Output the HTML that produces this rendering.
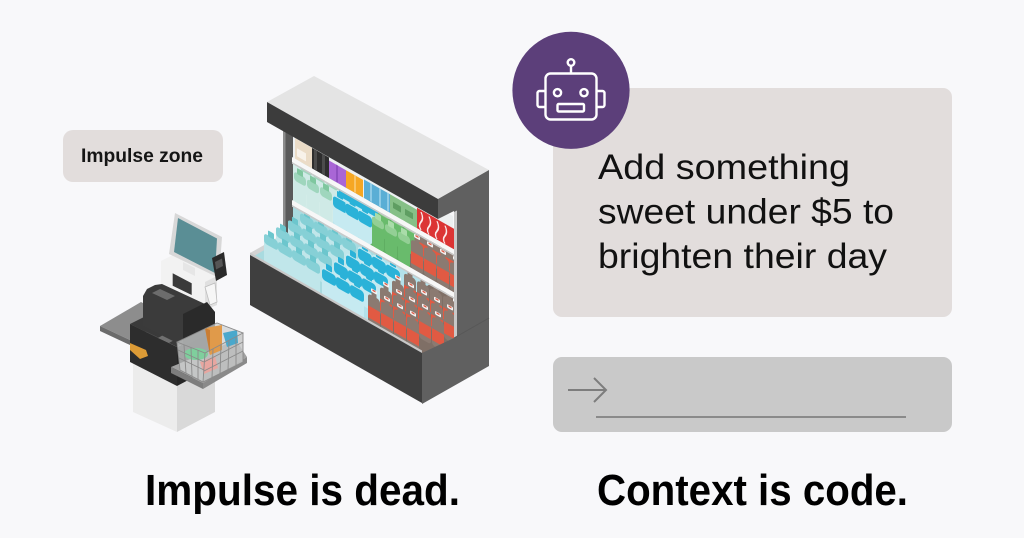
<!DOCTYPE html>
<html><head><meta charset="utf-8"><style>
html,body{margin:0;padding:0;background:#f8f8fa;overflow:hidden}
svg{display:block}
text{font-family:"Liberation Sans",Arial,sans-serif}
</style></head><body>
<svg width="1024" height="538" viewBox="0 0 1024 538" xmlns="http://www.w3.org/2000/svg">
<defs>
 <g id="cola">
  <rect x="0" y="-29" width="12" height="29" rx="3" fill="#8b7a71"/>
  <rect x="0" y="-17" width="12" height="12" fill="#e15a43"/>
  <rect x="3.5" y="-33" width="5" height="5" fill="#8b7a71"/>
  <rect x="3" y="-36" width="6" height="3.5" rx="1" fill="#f4f4f4"/>
  <rect x="4.5" y="-35.5" width="3" height="1.5" fill="#e15a43"/>
 </g>
 <g id="teal">
  <rect x="0" y="-30" width="14" height="30" rx="3" fill="#c0e6ea"/>
  <rect x="0" y="-30" width="14" height="10" rx="3" fill="#86d0d6"/>
  <rect x="4" y="-35" width="6" height="6" rx="1" fill="#6cc6cd"/>
 </g>
 <g id="cyan">
  <rect x="0" y="-30" width="14" height="30" rx="3" fill="#c6eaf1"/>
  <rect x="0" y="-28" width="14" height="11" rx="3" fill="#2ab2d8"/>
  <rect x="4" y="-35" width="6" height="6" rx="1" fill="#2ab2d8"/>
 </g>
 <g id="pale">
  <rect x="0" y="-30" width="12" height="30" rx="3" fill="#cfeae6"/>
  <rect x="0" y="-30" width="12" height="9" rx="3" fill="#9fd6bd"/>
  <rect x="3" y="-35" width="6" height="6" rx="1" fill="#7fc79f"/>
 </g>
 <g id="green">
  <rect x="0" y="-30" width="12" height="30" rx="3" fill="#69bb6c"/>
  <rect x="0" y="-30" width="12" height="8" rx="3" fill="#93cf95"/>
  <rect x="3" y="-35" width="6" height="6" rx="1" fill="#a9dca9"/>
 </g>
 <clipPath id="deckclip" clipPathUnits="userSpaceOnUse">
  <polygon points="250,255 283,236 293,236 293,200 453,292 453,380 250,380"/>
 </clipPath>
</defs>

<rect width="1024" height="538" fill="#f8f8fa"/>

<!-- Impulse zone label -->
<rect x="63" y="130" width="160" height="52" rx="10" fill="#e2dddc"/>
<text x="81" y="162" font-size="19" font-weight="bold" textLength="122" lengthAdjust="spacingAndGlyphs" fill="#151515">Impulse zone</text>

<!-- ===== FRIDGE ===== -->
<polygon points="283,122 453,216 453,345 283,250" fill="#edf0f1"/>

<g transform="matrix(1 0.57 0 1 0 0)">
 <!-- mid shelf background -->
 <rect x="293" y="-4" width="40" height="37.6" fill="#d3ece8"/>
 <rect x="333" y="-4" width="37" height="37.6" fill="#b9e3ec"/>
 <rect x="370" y="-4" width="40" height="37.6" fill="#5fae62"/>
 <rect x="410" y="-4" width="45" height="37.6" fill="#7f6f66"/>
 <!-- mid rear row -->
 <use href="#pale" x="300" y="19.9"/><use href="#pale" x="313" y="19.9"/><use href="#pale" x="326" y="19.9"/>
 <use href="#cyan" x="339" y="19.9"/><use href="#cyan" x="352" y="19.9"/><use href="#cyan" x="365" y="19.9"/>
 <use href="#green" x="378" y="19.9"/><use href="#green" x="391" y="19.9"/><use href="#green" x="404" y="19.9"/>
 <use href="#cola" x="417" y="19.9"/><use href="#cola" x="430" y="19.9"/><use href="#cola" x="443" y="19.9"/>
 <!-- mid front row -->
 <use href="#pale" x="294" y="33.6"/><use href="#pale" x="307" y="33.6"/><use href="#pale" x="320" y="33.6"/>
 <use href="#cyan" x="333" y="33.6"/><use href="#cyan" x="345.5" y="33.6"/><use href="#cyan" x="358" y="33.6"/>
 <use href="#green" x="372" y="33.6"/><use href="#green" x="385" y="33.6"/><use href="#green" x="398" y="33.6"/>
 <use href="#cola" x="411" y="33.6"/><use href="#cola" x="424" y="33.6"/><use href="#cola" x="437" y="33.6"/><use href="#cola" x="450" y="33.6"/>
 <!-- top shelf items -->
 <rect x="295" y="-30" width="17" height="20.6" fill="#ebdcc7"/>
 <rect x="297" y="-21" width="9" height="8" fill="#f8f2ea"/>
 <rect x="312" y="-30" width="17" height="20.6" fill="#2e2e2e"/>
 <rect x="314" y="-30" width="3" height="20" fill="#4c4c4c"/>
 <rect x="322" y="-30" width="3" height="20" fill="#4c4c4c"/>
 <rect x="329" y="-27" width="17" height="17.6" fill="#a966d6"/>
 <rect x="336" y="-27" width="2" height="17" fill="#8f50c0"/>
 <rect x="346" y="-27" width="17" height="17.6" fill="#f6a723"/>
 <rect x="354" y="-27" width="2" height="17" fill="#f9c466"/>
 <rect x="364" y="-28" width="26" height="18.6" fill="#5aaed5"/>
 <rect x="370" y="-28" width="2" height="18" fill="#8fcbe6"/>
 <rect x="379" y="-28" width="2" height="18" fill="#8fcbe6"/>
 <rect x="387" y="-28" width="2" height="18" fill="#8fcbe6"/>
 <rect x="390" y="-28" width="27" height="18.6" fill="#86c087"/>
 <rect x="393" y="-22" width="8" height="6" fill="#5f9e62"/>
 <rect x="405" y="-22" width="8" height="6" fill="#5f9e62"/>
 <rect x="417" y="-30" width="38" height="20.6" fill="#dc3434"/>
 <path d="M421 -28 q3 5 0 10 q-3 5 0 8 M429 -28 q3 5 0 10 q-3 5 0 8 M437 -28 q3 5 0 10 q-3 5 0 8 M445 -28 q3 5 0 10 q-3 5 0 8" stroke="#fbeaea" stroke-width="1.4" fill="none"/>
</g>

<!-- deck background (clipped) -->
<g clip-path="url(#deckclip)">
 <g transform="matrix(1 0.57 0 1 0 0)">
  <polygon points="240,112.5 322,112.5 387,38 240,38" fill="#a9dbe0"/>
  <polygon points="322,112.5 366,112.5 431,38 387,38" fill="#b3e1ea"/>
  <polygon points="366,112.5 470,112.5 470,38 431,38" fill="#7f6f66"/>
 </g>
</g>

<!-- left panel -->
<polygon points="283,123 293,128.7 293,244 283,238" fill="#5a5a5a"/>
<polygon points="283,123 285.5,124.4 285.5,239.5 283,238" fill="#8c8c8c"/>
<!-- deck left lip -->
<polygon points="250,253 282,235 286,237.5 254,256" fill="#d4d4d4"/>

<g transform="matrix(1 0.57 0 1 0 0)">
 <!-- deck row 3 -->
 <use href="#teal" x="300" y="71.4"/><use href="#teal" x="314" y="71.4"/><use href="#teal" x="328" y="71.4"/><use href="#teal" x="342" y="71.4"/>
 <use href="#cyan" x="358" y="71.4"/><use href="#cyan" x="372" y="71.4"/><use href="#cyan" x="386" y="71.4"/>
 <use href="#cola" x="404" y="71.4"/><use href="#cola" x="417" y="71.4"/><use href="#cola" x="430" y="71.4"/><use href="#cola" x="443" y="71.4"/>
 <!-- deck row 2 -->
 <use href="#teal" x="288" y="85.1"/><use href="#teal" x="302" y="85.1"/><use href="#teal" x="316" y="85.1"/><use href="#teal" x="330" y="85.1"/>
 <use href="#cyan" x="346" y="85.1"/><use href="#cyan" x="360" y="85.1"/><use href="#cyan" x="374" y="85.1"/>
 <use href="#cola" x="392" y="85.1"/><use href="#cola" x="405" y="85.1"/><use href="#cola" x="418" y="85.1"/><use href="#cola" x="431" y="85.1"/><use href="#cola" x="444" y="85.1"/>
 <!-- deck row 1 -->
 <use href="#teal" x="276" y="98.8"/><use href="#teal" x="290" y="98.8"/><use href="#teal" x="304" y="98.8"/><use href="#teal" x="318" y="98.8"/>
 <use href="#cyan" x="334" y="98.8"/><use href="#cyan" x="348" y="98.8"/><use href="#cyan" x="362" y="98.8"/>
 <use href="#cola" x="380" y="98.8"/><use href="#cola" x="393" y="98.8"/><use href="#cola" x="406" y="98.8"/><use href="#cola" x="419" y="98.8"/><use href="#cola" x="432" y="98.8"/>
 <!-- deck row 0 -->
 <use href="#teal" x="264" y="112.5"/><use href="#teal" x="278" y="112.5"/><use href="#teal" x="292" y="112.5"/><use href="#teal" x="306" y="112.5"/>
 <use href="#cyan" x="322" y="112.5"/><use href="#cyan" x="336" y="112.5"/><use href="#cyan" x="350" y="112.5"/>
 <use href="#cola" x="368" y="112.5"/><use href="#cola" x="381" y="112.5"/><use href="#cola" x="394" y="112.5"/><use href="#cola" x="407" y="112.5"/>
 <!-- shelves -->
 <rect x="292" y="-9.4" width="162" height="5" fill="#f7f7f7"/>
 <rect x="292" y="-4.4" width="162" height="1.6" fill="#c9c9c9"/>
 <rect x="292" y="33.6" width="162" height="5" fill="#f7f7f7"/>
 <rect x="292" y="38.6" width="162" height="1.6" fill="#c9c9c9"/>
 <!-- base front lip and face -->
 <rect x="250" y="110" width="172" height="3" fill="#c8c8c8"/>
 <rect x="250" y="112.5" width="172" height="50" fill="#3f3f3f"/>
</g>

<!-- canopy -->
<polygon points="267,102 314,76 489,170 438,199" fill="#e4e4e4"/>
<polygon points="267,102 438,199 438,219 267,122" fill="#3c3c3c"/>
<!-- right side -->
<polygon points="438,199 489,170 489,366 422,404 422,353 454,338 454,211 438,219" fill="#606060"/>
<polygon points="454,212 457,210.5 457,336.5 454,338" fill="#c8c8c8"/>
<line x1="454" y1="338" x2="489" y2="318" stroke="#575757" stroke-width="1"/>

<!-- ===== CHECKOUT ===== -->
<!-- pedestal -->
<polygon points="133,363 177,385 177,432 133,412" fill="#ececec"/>
<polygon points="177,385 215,365 215,412 177,432" fill="#d9d9d9"/>
<!-- left tray -->
<polygon points="100,326 141,302 172,318 130,340" fill="#8d8d8d"/>
<polygon points="100,326 130,340 130,345 100,331" fill="#6b6b6b"/>
<!-- lower dark block -->
<polygon points="130,324 150,314 197,336 177,347" fill="#3a3a3a"/>
<polygon points="130,324 177,347 177,386 130,362" fill="#2d2d2d"/>
<polygon points="177,347 215,328 215,366 177,386" fill="#262626"/>
<polygon points="158,338 165,334 176,339 169,343" fill="#707070"/>
<!-- orange handle -->
<polygon points="130,343 146,350 148,356 140,359 130,350" fill="#dc9b36"/>
<!-- white kiosk -->
<polygon points="161,261 175,254 217,276 217,305 205,310 161,290" fill="#f2f2f2"/>
<polygon points="205,282 217,276 217,305 205,310" fill="#e0e0e0"/>
<polygon points="172.7,273.3 191.7,283.3 191.7,295 172.7,285.7" fill="#3a3a3a"/>
<polygon points="205,287 215,283 217,302 210,305" fill="#f6f6f6" stroke="#bdbdbd" stroke-width="0.8"/>
<!-- upper dark body -->
<polygon points="143,296 147,289 155,285 162,284 205,304 215,312 215,330 183,346 143,326" fill="#3b3b3b"/>
<polygon points="183,314 207,302 215,312 215,330 183,346" fill="#2a2a2a"/>
<polygon points="152,293 160,289 175,296 167,300" fill="#6c6c6c"/>
<!-- monitor -->
<polygon points="183,262 195,268 195,276 183,270" fill="#e6e6e6"/>
<polygon points="175,213 222,237 219,278 169,254" fill="#d8d8d8"/>
<polygon points="178,218 217,238.5 215,273 174,252" fill="#5a8e95"/>
<!-- card reader -->
<polygon points="212,258 224,252 227,275 216,281" fill="#2a2a2a"/>
<polygon points="215,262 222,258.5 223,266 216,269.5" fill="#555"/>
<!-- basket tray -->
<polygon points="171,367 236,340 247,357 203,383" fill="#a2a2a2"/>
<polygon points="171,367 203,383 203,389 171,373" fill="#7d7d7d"/>
<polygon points="203,383 247,357 247,363 203,389" fill="#8a8a8a"/>
<!-- basket -->
<polygon points="177,342 217,323 243,333 205,353 203,382 180,370" fill="#cfd1d1" opacity="0.75"/>
<polygon points="205,353 243,333 243,362 203,382" fill="#c4c6c6" opacity="0.8"/>
<polygon points="205,328 222,325 222,350 210,355" fill="#e09a4a"/>
<polygon points="205,328 210,330 210,355" fill="#c97d33"/>
<polygon points="223,333 237,330 238,343 227,347" fill="#49a8cc"/>
<ellipse cx="196" cy="354" rx="12" ry="6" fill="#7fcf9d"/>
<polygon points="200,362 215,356 218,368 204,374" fill="#e7a6a0"/>
<g stroke="#8a8a8a" stroke-width="0.9" fill="none">
 <polygon points="177,342 217,323 243,333 205,353"/>
 <polyline points="177,342 180,370 203,382 243,362 243,333"/>
 <line x1="205" y1="353" x2="203" y2="382"/>
 <line x1="178" y1="350" x2="204" y2="362"/><line x1="179" y1="358" x2="204" y2="370"/><line x1="204" y1="362" x2="243" y2="342"/><line x1="204" y1="371" x2="243" y2="351"/>
 <line x1="184" y1="345" x2="186" y2="373"/><line x1="191" y1="348" x2="192" y2="376"/><line x1="198" y1="350" x2="198" y2="379"/>
 <line x1="213" y1="349" x2="212" y2="378"/><line x1="221" y1="345" x2="220" y2="374"/><line x1="229" y1="341" x2="228" y2="370"/><line x1="236" y1="337" x2="236" y2="366"/>
</g>

<!-- ===== RIGHT PANEL ===== -->
<rect x="553" y="88" width="399" height="229" rx="9" fill="#e2dddc"/>
<rect x="553" y="357" width="399" height="75" rx="9" fill="#c9c9c9"/>
<line x1="568" y1="390" x2="606" y2="390" stroke="#7d7d7d" stroke-width="2"/>
<polyline points="594,378 606,390 594,402" stroke="#7d7d7d" stroke-width="2" fill="none"/>
<line x1="596" y1="417" x2="906" y2="417" stroke="#8a8a8a" stroke-width="2"/>

<circle cx="571" cy="90.3" r="58.6" fill="#5c3f7a"/>
<g stroke="#ffffff" stroke-width="2.4" fill="none">
 <circle cx="571" cy="62.5" r="3.3"/>
 <line x1="571" y1="65.8" x2="571" y2="73.5"/>
 <rect x="545.5" y="73.5" width="51" height="46" rx="5"/>
 <path d="M545.5 91 h-6 a2 2 0 0 0 -2 2 v12 a2 2 0 0 0 2 2 h6"/>
 <path d="M596.5 91 h6 a2 2 0 0 1 2 2 v12 a2 2 0 0 1 -2 2 h-6"/>
 <circle cx="557.5" cy="92.7" r="3.6"/>
 <circle cx="584" cy="92.7" r="3.6"/>
 <rect x="557.5" y="104" width="26.5" height="7.5" rx="1.2"/>
</g>

<text x="598" y="179" font-size="35.5" textLength="252" lengthAdjust="spacingAndGlyphs" fill="#111">Add something</text>
<text x="598" y="223.5" font-size="35.5" textLength="296" lengthAdjust="spacingAndGlyphs" fill="#111">sweet under $5 to</text>
<text x="598" y="268" font-size="35.5" textLength="289" lengthAdjust="spacingAndGlyphs" fill="#111">brighten their day</text>

<!-- bottom captions -->
<text x="145" y="505" font-size="44" font-weight="bold" textLength="315" lengthAdjust="spacingAndGlyphs" fill="#000">Impulse is dead.</text>
<text x="597" y="505" font-size="44" font-weight="bold" textLength="311" lengthAdjust="spacingAndGlyphs" fill="#000">Context is code.</text>
</svg>
</body></html>
